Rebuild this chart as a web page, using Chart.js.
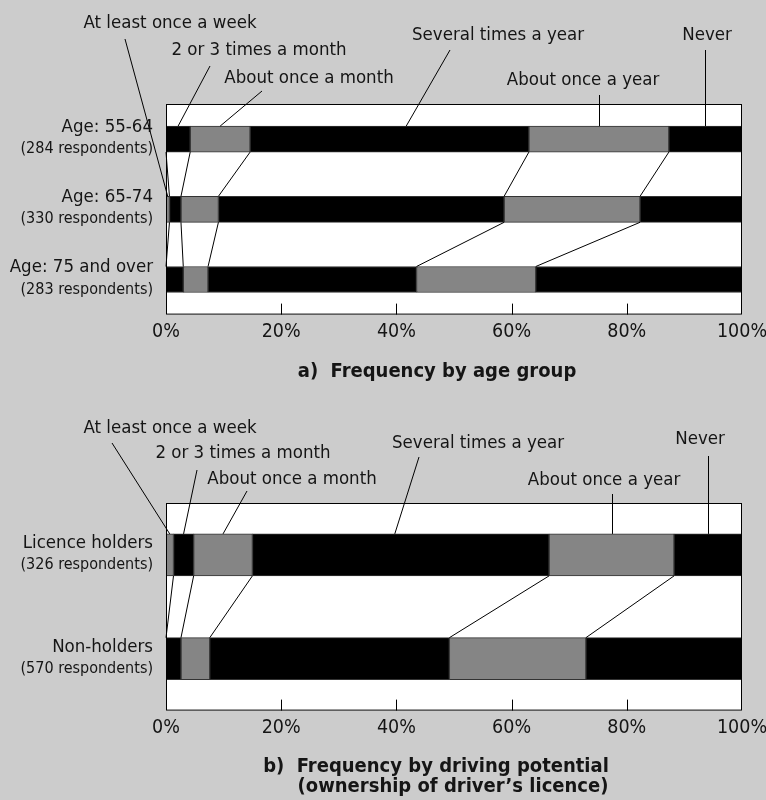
<!DOCTYPE html>
<html>
<head>
<meta charset="utf-8">
<script src="https://cdn.jsdelivr.net/npm/chart.js@4.4.1/dist/chart.umd.min.js"></script>
<style>
body { margin: 0; background: #cccccc; }
.wrap { position: relative; width: 766px; height: 800px; }
canvas { position: absolute; left: 0; }
</style>
</head>
<body>
<div class="wrap">
  <canvas id="chartA" width="766" height="400" style="top:0"></canvas>
  <canvas id="chartB" width="766" height="400" style="top:400px"></canvas>
</div>
<script>
const frequencies = ['At least once a week', '2 or 3 times a month', 'About once a month', 'Several times a year', 'About once a year', 'Never']
const xTicks = [0, 20, 40, 60, 80, 100]

// a) by age group, percent of respondents
const ageGroups = ['Age: 55-64', 'Age: 65-74', 'Age: 75 and over']
const ageRespondents = ['(284 respondents)', '(330 respondents)', '(283 respondents)']
const ageWeekly   = [0, 0.6, 0]
const ageMonthly2 = [4.2, 2.0, 3.0]
const ageMonthly  = [10.4, 6.5, 4.3]
const ageSeveral  = [48.4, 49.6, 36.2]
const ageYearly   = [24.3, 23.6, 20.7]
const ageNever    = [12.7, 17.7, 35.8]

// b) by driving licence
const licenceGroups = ['Licence holders', 'Non-holders']
const licenceRespondents = ['(326 respondents)', '(570 respondents)']
const licWeekly   = [1.3, 0]
const licMonthly2 = [3.5, 2.6]
const licMonthly  = [10.2, 5.0]
const licSeveral  = [51.5, 41.6]
const licYearly   = [21.7, 23.7]
const licNever    = [11.8, 27.1]

const FONT = "'DejaVu Sans Condensed', 'DejaVu Sans', sans-serif"
const INK = '#151515'
const SEG_COLORS = ['#858585', '#000', '#858585', '#000', '#858585', '#000']

// caption centre, start of its leader line (x null = straight down), and where along the segment it lands
const calloutsA = [
  {pos: [170, 23], from: [125, 39], at: 0.5},
  {pos: [259, 50], from: [210, 66], at: 0.5},
  {pos: [309, 78], from: [262, 91], at: 0.5},
  {pos: [498, 35], from: [450, 50], at: 0.56},
  {pos: [583, 80], from: [null, 95], at: 0.5},
  {pos: [707, 35], from: [null, 50], at: 0.5}
]
const calloutsB = [
  {pos: [170, 28], from: [112, 43], at: 0.5},
  {pos: [243, 53], from: [197, 70], at: 0.5},
  {pos: [292, 79], from: [247, 91], at: 0.5},
  {pos: [478, 43], from: [419, 57], at: 0.48},
  {pos: [604, 80], from: [null, 94], at: 0.5},
  {pos: [700, 39], from: [null, 56], at: 0.5}
]

function decorations(callouts, subLabels, titleLines) {
  return {
    id: 'decorations',
    beforeDatasetsDraw(chart) {
      const {ctx, chartArea: a} = chart
      ctx.save()
      ctx.fillStyle = '#fff'
      ctx.fillRect(a.left, a.top, a.right - a.left, a.bottom - a.top)
      ctx.restore()
    },
    afterDatasetsDraw(chart) {
      const {ctx, chartArea: a} = chart
      const x = chart.scales.x
      const sets = chart.data.datasets
      const bars = chart.getDatasetMeta(0).data
      const n = chart.data.labels.length
      const line = (x1, y1, x2, y2) => { ctx.beginPath(); ctx.moveTo(x1, y1); ctx.lineTo(x2, y2); ctx.stroke() }
      ctx.save()
      ctx.strokeStyle = '#000'
      ctx.lineWidth = 1

      // connectors between neighbouring bars
      for (let i = 0; i < n - 1; i++) {
        const y1 = bars[i].y + bars[i].height / 2
        const y2 = bars[i + 1].y - bars[i + 1].height / 2
        let c1 = 0, c2 = 0
        for (let k = 0; k < sets.length - 1; k++) {
          c1 += sets[k].data[i]
          c2 += sets[k].data[i + 1]
          line(x.getPixelForValue(c1), y1, x.getPixelForValue(c2), y2)
        }
      }

      // tick marks pointing into the plot
      x.ticks.forEach(t => {
        if (t.value > x.min && t.value < x.max) {
          const px = Math.round(x.getPixelForValue(t.value)) + 0.5
          line(px, a.bottom, px, a.bottom - 11)
        }
      })

      ctx.strokeRect(a.left + 0.5, a.top + 0.5, a.right - a.left - 1, a.bottom - a.top - 1)

      // captions with leader lines to the first bar that has the segment
      ctx.fillStyle = INK
      ctx.textAlign = 'center'
      ctx.textBaseline = 'middle'
      ctx.font = '18.5px ' + FONT
      sets.forEach((ds, k) => {
        let i = ds.data.findIndex(v => v > 0)
        if (i < 0) i = 0
        let start = 0
        for (let j = 0; j < k; j++) start += sets[j].data[i]
        const c = callouts[k]
        const mid = x.getPixelForValue(start + ds.data[i] * c.at)
        const top = bars[i].y - bars[i].height / 2
        const sx = c.from[0] === null ? Math.round(mid) + 0.5 : c.from[0]
        const ex = c.from[0] === null ? sx : mid
        line(sx, c.from[1], ex, top)
        ctx.fillText(ds.label, c.pos[0], c.pos[1])
      })

      // category labels (two lines, second smaller)
      ctx.textAlign = 'right'
      chart.data.labels.forEach((lab, i) => {
        const cy = bars[i].y
        ctx.font = '18.5px ' + FONT
        ctx.fillText(lab, 153, cy - 12)
        ctx.font = '16px ' + FONT
        ctx.fillText(subLabels[i], 153, cy + 10)
      })

      // caption under the chart
      ctx.textAlign = 'center'
      ctx.font = 'bold 20px ' + FONT
      titleLines.forEach(t => ctx.fillText(t.text, t.x, t.y))
      ctx.restore()
    }
  }
}

function buildChart(id, labels, series, thickness, padding, callouts, subLabels, titleLines) {
  const ctx = document.getElementById(id).getContext('2d')
  return new Chart(ctx, {
    type: 'bar',
    data: {
      labels: labels,
      datasets: series.map((d, k) => ({
        label: frequencies[k],
        data: d,
        backgroundColor: SEG_COLORS[k],
        borderColor: '#333',
        borderWidth: 1,
        borderSkipped: false,
        barThickness: thickness
      }))
    },
    options: {
      responsive: false,
      animation: false,
      indexAxis: 'y',
      layout: {padding: padding},
      plugins: {legend: {display: false}, tooltip: {enabled: false}},
      scales: {
        x: {
          stacked: true, min: 0, max: 100,
          afterBuildTicks: s => { s.ticks = xTicks.map(v => ({value: v})) },
          // let "0%" and "100%" hang over the plot edges without shrinking it
          afterFit: s => { s.paddingLeft = 0; s.paddingRight = 0 },
          grid: {display: false, drawTicks: false},
          border: {display: false},
          ticks: {padding: 6, color: INK, font: {family: FONT, size: 19.5}, maxRotation: 0, autoSkip: false,
                  callback: v => v + '%'}
        },
        y: {stacked: true, display: false}
      }
    },
    plugins: [decorations(callouts, subLabels, titleLines)]
  })
}

buildChart('chartA', ageGroups,
  [ageWeekly, ageMonthly2, ageMonthly, ageSeveral, ageYearly, ageNever],
  26, {left: 166, right: 24, top: 104, bottom: 50}, calloutsA, ageRespondents,
  [{text: 'a)  Frequency by age group', x: 437, y: 372}])

buildChart('chartB', licenceGroups,
  [licWeekly, licMonthly2, licMonthly, licSeveral, licYearly, licNever],
  42, {left: 166, right: 24, top: 103, bottom: 54}, calloutsB, licenceRespondents,
  [{text: 'b)  Frequency by driving potential', x: 436, y: 367},
   {text: '(ownership of driver\u2019s licence)', x: 453, y: 387}])
</script>
</body>
</html>
